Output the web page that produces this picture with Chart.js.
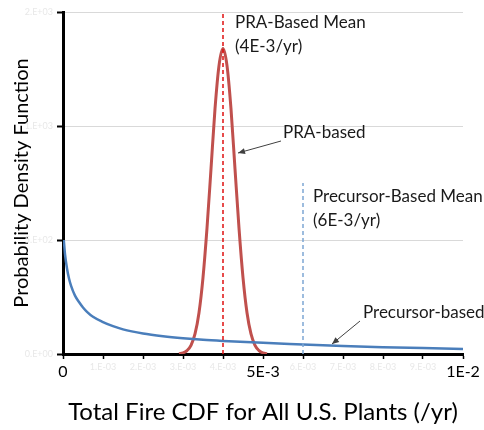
<!DOCTYPE html>
<html>
<head>
<meta charset="utf-8">
<script src="https://cdn.jsdelivr.net/npm/chart.js@4"></script>
<style>
html,body{margin:0;padding:0;background:#fff;}
#wrap{width:484px;height:430px;}
</style>
</head>
<body>
<div id="wrap"><canvas id="c" width="484" height="430"></canvas></div>
<script>
// x values in units of 1E-3 /yr
const praX   = [2.9, 3.0, 3.1, 3.2, 3.3, 3.4, 3.5, 3.6, 3.7, 3.8, 3.9, 4.0, 4.1, 4.2, 4.3, 4.4, 4.5, 4.6, 4.7, 4.8, 4.9, 5.0, 5.1];
const praY   = [1, 5, 15, 38, 88, 181, 335, 552, 812, 1075, 1265, 1340, 1265, 1075, 812, 552, 335, 181, 88, 38, 15, 5, 1];
const precX  = [0.02, 0.05, 0.1, 0.15, 0.2, 0.3, 0.4, 0.5, 0.6, 0.75, 1.0, 1.25, 1.5, 2.0, 2.5, 3.0, 3.5, 4.0, 5.0, 6.0, 7.0, 8.0, 9.0, 10.0];
const precY  = [500, 438, 375, 331, 300, 256, 228, 204, 185, 163, 140, 122, 108, 90, 78, 69, 62, 57, 49, 42, 35, 30, 26, 22];
const praMean = 4;      // 4E-3/yr
const praMeanTop = 1500;
const precMean = 6;     // 6E-3/yr
const precMeanTop = 750;
const xTickLabelsMain = {0: '0', 5: '5E-3', 10: '1E-2'};
const yTickStep = 500;
const yMax = 1500;
const xMax = 10;

const FONT = 'Lato, "Open Sans", sans-serif';
const toPts = (xs, ys) => xs.map((x, i) => ({x: x / 1000, y: ys[i]}));

function sci(v) {
  if (v === 0) return '0.E+00';
  const e = Math.floor(Math.log10(Math.abs(v)));
  let m = Math.round(v / Math.pow(10, e));
  let ee = e;
  if (m >= 10) { m = 1; ee += 1; }
  return m + '.E' + (ee < 0 ? '-' : '+') + String(Math.abs(ee)).padStart(2, '0');
}

const annot = {
  id: 'annot',
  afterDatasetsDraw(chart) {
    const ctx = chart.ctx;
    ctx.save();
    ctx.fillStyle = '#1a1a1a';
    ctx.font = '17px ' + FONT;
    ctx.textBaseline = 'middle';
    ctx.textAlign = 'left';
    ctx.fillText('PRA-Based Mean', 235, 23);
    ctx.fillText('(4E-3/yr)', 235, 47);
    ctx.fillText('PRA-based', 283, 133);
    ctx.fillText('Precursor-Based Mean', 313, 197);
    ctx.fillText('(6E-3/yr)', 313, 221);
    ctx.fillText('Precursor-based', 363, 313);
    function arrow(x1, y1, x2, y2) {
      ctx.strokeStyle = '#404040';
      ctx.fillStyle = '#404040';
      ctx.lineWidth = 1;
      ctx.beginPath(); ctx.moveTo(x1, y1); ctx.lineTo(x2, y2); ctx.stroke();
      const a = Math.atan2(y2 - y1, x2 - x1);
      const L = 7, W = 3;
      ctx.beginPath();
      ctx.moveTo(x2, y2);
      ctx.lineTo(x2 - L * Math.cos(a) + W * Math.sin(a), y2 - L * Math.sin(a) - W * Math.cos(a));
      ctx.lineTo(x2 - L * Math.cos(a) - W * Math.sin(a), y2 - L * Math.sin(a) + W * Math.cos(a));
      ctx.closePath(); ctx.fill();
    }
    arrow(281, 141, 238, 153);
    arrow(360, 321, 332, 344);
    ctx.restore();
  }
};

new Chart(document.getElementById('c'), {
  type: 'scatter',
  data: {
    datasets: [
      {
        label: 'PRA Mean', data: [{x: praMean / 1000, y: 0}, {x: praMean / 1000, y: praMeanTop}],
        showLine: true, borderColor: '#e01010', borderWidth: 1.5, borderDash: [4, 3],
        pointRadius: 0, order: 0
      },
      {
        label: 'Precursor Mean', data: [{x: precMean / 1000, y: 0}, {x: precMean / 1000, y: precMeanTop}],
        showLine: true, borderColor: '#7ea6d3', borderWidth: 1.5, borderDash: [4, 3],
        pointRadius: 0, order: 1
      },
      {
        label: 'Precursor-based', data: toPts(precX, precY),
        showLine: true, borderColor: '#4a7ebb', borderWidth: 2.5, cubicInterpolationMode: 'monotone',
        pointRadius: 0, order: 2
      },
      {
        label: 'PRA-based', data: toPts(praX, praY),
        showLine: true, borderColor: '#c0504d', borderWidth: 3, cubicInterpolationMode: 'monotone',
        pointRadius: 0, order: 3
      }
    ]
  },
  options: {
    responsive: false,
    animation: false,
    devicePixelRatio: 1,
    layout: {padding: {left: 0, top: 12, right: 21, bottom: 0}},
    plugins: {legend: {display: false}, tooltip: {enabled: false}},
    scales: {
      x: {
        type: 'linear', min: 0, max: xMax / 1000,
        afterFit(s) { s.height = 76; },
        border: {color: '#000', width: 3},
        grid: {drawOnChartArea: false, color: '#000', tickLength: 5, tickWidth: 1.5, tickColor: '#000'},
        ticks: {
          stepSize: 0.001, maxRotation: 0, autoSkip: false, padding: 3,
          callback(v) {
            const k = Math.round(v * 1000);
            return xTickLabelsMain[k] !== undefined ? xTickLabelsMain[k] : sci(k / 1000);
          },
          color(c) {
            const k = Math.round(c.tick.value * 1000);
            return xTickLabelsMain[k] !== undefined ? '#000' : '#e8e8e8';
          },
          font(c) {
            const k = c.tick ? Math.round(c.tick.value * 1000) : 0;
            return xTickLabelsMain[k] !== undefined ? {family: FONT, size: 16} : {family: FONT, size: 9};
          }
        },
        title: {display: true, text: 'Total Fire CDF for All U.S. Plants (/yr)', color: '#000',
          font: {family: FONT, size: 24}, padding: {top: 0, bottom: 3}}
      },
      y: {
        type: 'linear', min: 0, max: yMax,
        afterFit(s) { s.width = 63; },
        border: {color: '#000', width: 3},
        grid: {color: '#d9d9d9', lineWidth: 1, tickLength: 6, tickColor: '#000', tickWidth: 2},
        ticks: {
          stepSize: yTickStep, padding: 4, color: '#e8e8e8', font: {family: FONT, size: 9},
          callback(v) { return sci(v); }
        },
        title: {display: true, text: 'Probability Density Function', color: '#000',
          font: {family: FONT, size: 20}, padding: {top: 10, bottom: 0}}
      }
    }
  },
  plugins: [annot]
});
</script>
</body>
</html>
